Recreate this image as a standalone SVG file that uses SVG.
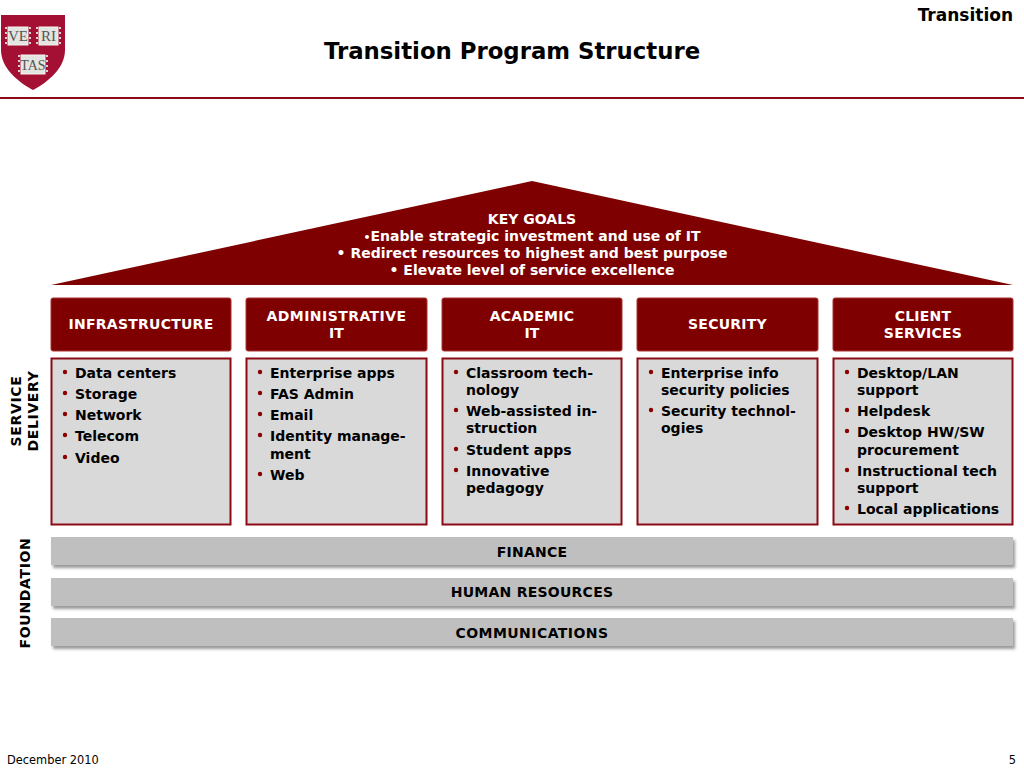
<svg xmlns="http://www.w3.org/2000/svg" width="1024" height="768" viewBox="0 0 1024 768">
<style>
text{font-family:"DejaVu Sans",Verdana,sans-serif;font-weight:bold;font-size:14px;fill:#000}
.w{fill:#fff;text-anchor:middle}
.c{text-anchor:middle}
.s{letter-spacing:.25px}
.a{letter-spacing:.45px}
.v{letter-spacing:.65px}
.h{fill:#7f0000;stroke:#a33;stroke-width:1}
.b{fill:#d9d9d9;stroke:#8b0a14;stroke-width:2}
.f{fill:#bfbfbf;filter:url(#sh)}
.d{fill:#8b0000}
.d circle{r:2.200px}
.l{font-family:"Liberation Serif",serif;font-weight:normal;font-size:15px;fill:#555;text-anchor:middle}
.p{fill:#e4e4e0;stroke:#f4f4f0;stroke-width:1}
.k{stroke:#d8d2ca;stroke-width:2;stroke-dasharray:2 3;fill:none}
</style>
<defs>
<filter id="sh" x="-2%" y="-30%" width="104%" height="170%"><feDropShadow dx="2" dy="3" stdDeviation="1.500" flood-color="#000" flood-opacity="0.4"/></filter>
</defs>
<g id="logo">
<path d="M1 15H65V50C65 68 48 82 33 90C18 82 1 68 1 50Z" fill="#a41034"/>
<rect class="p" x="8" y="27" width="20" height="18"/>
<rect class="p" x="39" y="27" width="19" height="18"/>
<rect class="p" x="21" y="55" width="24" height="19"/>
<path class="k" d="M6 27V45M30 27V45M37 27V45M60 27V45M19 55V74M47 55V74"/>
<text class="l" x="18" y="41">VE</text>
<text class="l" x="48.500" y="41">RI</text>
<text class="l" x="33" y="70" style="font-size:14px">TAS</text>
</g>
<g id="header">
<text x="1013" y="21" text-anchor="end" style="font-size:17px">Transition</text>
<text class="c" x="512" y="59" style="font-size:22.800px">Transition Program Structure</text>
<rect x="0" y="97" width="1024" height="2" fill="#8b0a14"/>
</g>
<g id="roof">
<polygon points="51,285 532,181 1013,285" fill="#7f0000"/>
<text class="w" x="532" y="224">KEY GOALS</text>
<text class="w" x="532" y="241"><tspan font-size="11">•</tspan>Enable strategic investment and use of IT</text>
<text class="w" x="532" y="258">•  Redirect resources to highest and best purpose</text>
<text class="w" x="532" y="275">•  Elevate level of service excellence</text>
</g>
<g id="infrastructure">
<rect class="h" x="51" y="298" width="180" height="53" rx="2"/>
<text class="w s" x="141" y="329">INFRASTRUCTURE</text>
<rect class="b" x="51.500" y="358.500" width="179" height="166"/>
<text x="75" y="378">Data centers</text><text x="75" y="399">Storage</text><text x="75" y="420">Network</text><text x="75" y="441">Telecom</text><text x="75" y="463">Video</text>
<g class="d"><circle cx="65" cy="372" r="2.200"/><circle cx="65" cy="393" r="2.200"/><circle cx="65" cy="414" r="2.200"/><circle cx="65" cy="435" r="2.200"/><circle cx="65" cy="457" r="2.200"/></g>
</g>
<g id="administrative">
<rect class="h" x="246" y="298" width="181" height="53" rx="2"/>
<text class="w a" x="336.500" y="321">ADMINISTRATIVE</text><text class="w" x="336.500" y="338">IT</text>
<rect class="b" x="246.500" y="358.500" width="180" height="166"/>
<text x="270" y="378">Enterprise apps</text><text x="270" y="399">FAS Admin</text><text x="270" y="420">Email</text><text x="270" y="441">Identity manage-</text><text x="270" y="459">ment</text><text x="270" y="480">Web</text>
<g class="d"><circle cx="260" cy="372" r="2.200"/><circle cx="260" cy="393" r="2.200"/><circle cx="260" cy="414" r="2.200"/><circle cx="260" cy="435" r="2.200"/><circle cx="260" cy="474" r="2.200"/></g>
</g>
<g id="academic">
<rect class="h" x="442" y="298" width="180" height="53" rx="2"/>
<text class="w s" x="532" y="321">ACADEMIC</text><text class="w" x="532" y="338">IT</text>
<rect class="b" x="442.500" y="358.500" width="179" height="166"/>
<text x="466" y="378">Classroom tech-</text><text x="466" y="395">nology</text><text x="466" y="416">Web-assisted in-</text><text x="466" y="433">struction</text><text x="466" y="455">Student apps</text><text x="466" y="476">Innovative</text><text x="466" y="493">pedagogy</text>
<g class="d"><circle cx="456" cy="372" r="2.200"/><circle cx="456" cy="410" r="2.200"/><circle cx="456" cy="449" r="2.200"/><circle cx="456" cy="470" r="2.200"/></g>
</g>
<g id="security">
<rect class="h" x="637" y="298" width="181" height="53" rx="2"/>
<text class="w s" x="727.500" y="329">SECURITY</text>
<rect class="b" x="637.500" y="358.500" width="180" height="166"/>
<text x="661" y="378">Enterprise info</text><text x="661" y="395">security policies</text><text x="661" y="416">Security technol-</text><text x="661" y="433">ogies</text>
<g class="d"><circle cx="651" cy="372" r="2.200"/><circle cx="651" cy="410" r="2.200"/></g>
</g>
<g id="client">
<rect class="h" x="833" y="298" width="180" height="53" rx="2"/>
<text class="w s" x="923" y="321">CLIENT</text><text class="w s" x="923" y="338">SERVICES</text>
<rect class="b" x="833.500" y="358.500" width="179" height="166"/>
<text x="857" y="378">Desktop/LAN</text><text x="857" y="395">support</text><text x="857" y="416">Helpdesk</text><text x="857" y="437">Desktop HW/SW</text><text x="857" y="455">procurement</text><text x="857" y="476">Instructional tech</text><text x="857" y="493">support</text><text x="857" y="514">Local applications</text>
<g class="d"><circle cx="847" cy="372" r="2.200"/><circle cx="847" cy="410" r="2.200"/><circle cx="847" cy="431" r="2.200"/><circle cx="847" cy="470" r="2.200"/><circle cx="847" cy="508" r="2.200"/></g>
</g>
<g id="service-delivery">
<text class="c v" transform="translate(21,411) rotate(-90)">SERVICE</text>
<text class="c v" transform="translate(38,411) rotate(-90)">DELIVERY</text>
</g>
<g id="foundation">
<text class="c v" transform="translate(30,593) rotate(-90)">FOUNDATION</text>
<rect class="f" x="51" y="537" width="962" height="28"/>
<text class="c s" x="532" y="557">FINANCE</text>
<rect class="f" x="51" y="578" width="962" height="28"/>
<text class="c s" x="532" y="597">HUMAN RESOURCES</text>
<rect class="f" x="51" y="618" width="962" height="28"/>
<text class="c a" x="532" y="638">COMMUNICATIONS</text>
</g>
<g id="footer">
<text x="7" y="764" style="font-weight:normal;font-size:11.400px">December 2010</text>
<text x="1016" y="764" text-anchor="end" style="font-weight:normal;font-size:11.400px">5</text>
</g>
<g id="connectors"></g>
</svg>
